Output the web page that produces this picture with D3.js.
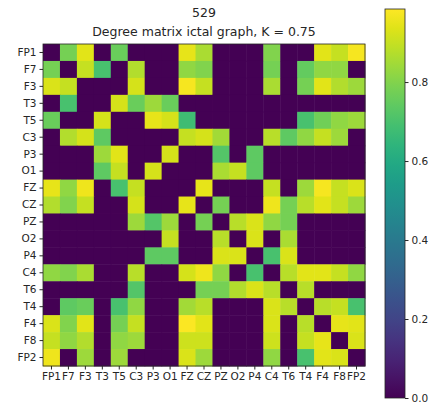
<!DOCTYPE html>
<html>
<head>
<meta charset="utf-8">
<script src="https://cdn.jsdelivr.net/npm/d3@7"></script>
<style>
  body { margin: 0; background: #fff; }
  text { font-family: "DejaVu Sans", sans-serif; fill: #262626; }
  .axis path, .axis line { stroke: #262626; }
</style>
</head>
<body>
<div id="chart"></div>
<script>
  // channel names (rows and columns)
  var labels = ['FP1', 'F7', 'F3', 'T3', 'T5', 'C3', 'P3', 'O1', 'FZ', 'CZ',
                'PZ', 'O2', 'P4', 'C4', 'T6', 'T4', 'F4', 'F8', 'FP2'];

  // degree matrix, one row per channel
  var rowFP1 = [0, .78, .94, 0, .76, 0, 0, 0, .95, .86, 0, 0, 0, .80, 0, 0, .94, .90, .97];
  var rowF7  = [.78, 0, .90, .70, 0, .87, 0, 0, .82, .80, 0, 0, 0, .78, 0, .75, .82, .82, 0];
  var rowF3  = [.93, .90, 0, 0, 0, .92, 0, 0, .97, .90, 0, 0, 0, .86, 0, .78, .94, .87, .84];
  var rowT3  = [0, .70, 0, 0, .92, .76, .84, .76, 0, 0, 0, 0, 0, 0, 0, 0, 0, 0, 0];
  var rowT5  = [.76, 0, 0, .92, 0, 0, .95, .92, .68, 0, 0, 0, 0, 0, 0, .70, .77, .82, .84];
  var rowC3  = [0, .87, .92, .74, 0, 0, 0, 0, .90, .92, .85, 0, 0, .88, .74, .82, .90, .84, 0];
  var rowP3  = [0, 0, 0, .84, .94, 0, 0, .92, 0, 0, .72, 0, .74, 0, 0, 0, 0, 0, 0];
  var rowO1  = [0, 0, 0, .74, .90, 0, .92, 0, 0, 0, .86, .90, .74, 0, 0, 0, 0, 0, 0];
  var rowFZ  = [.95, .82, .96, 0, .70, .90, 0, 0, 0, .95, 0, 0, 0, .90, 0, .84, .97, .90, .93];
  var rowCZ  = [.87, .80, .90, 0, 0, .92, 0, 0, .95, 0, .78, 0, 0, .96, .78, .88, .94, .90, .84];
  var rowPZ  = [0, 0, 0, 0, 0, .84, .72, .84, 0, .78, 0, .88, .93, .82, .78, 0, 0, 0, 0];
  var rowO2  = [0, 0, 0, 0, 0, 0, 0, .90, 0, 0, .88, 0, .93, 0, .86, 0, 0, 0, 0];
  var rowP4  = [0, 0, 0, 0, 0, 0, .74, .74, 0, 0, .93, .93, 0, .70, .93, 0, 0, 0, 0];
  var rowC4  = [.82, .80, .86, 0, 0, .88, 0, 0, .92, .96, .82, 0, .70, 0, .88, .94, .94, .90, .82];
  var rowT6  = [0, 0, 0, 0, 0, .72, 0, 0, 0, .78, .78, .87, .93, .88, 0, .88, 0, 0, 0];
  var rowT4  = [0, .74, .76, 0, .70, .82, 0, 0, .85, .88, 0, 0, 0, .93, .88, 0, .88, .90, .70];
  var rowF4  = [.93, .80, .94, 0, .78, .90, 0, 0, .98, .94, 0, 0, 0, .93, 0, .88, 0, .95, .94];
  var rowF8  = [.90, .82, .87, 0, .82, .84, 0, 0, .91, .91, 0, 0, 0, .91, 0, .90, .95, 0, .93];
  var rowFP2 = [.96, 0, .84, 0, .84, 0, 0, 0, .93, .84, 0, 0, 0, .82, 0, .70, .94, .93, 0];

  var matrix = [rowFP1, rowF7, rowF3, rowT3, rowT5, rowC3, rowP3, rowO1, rowFZ, rowCZ,
                rowPZ, rowO2, rowP4, rowC4, rowT6, rowT4, rowF4, rowF8, rowFP2];

  var cbTicks = [0.0, 0.2, 0.4, 0.6, 0.8];
  var vmax = 0.985;

  var W = 434, H = 406;
  var plotLeft = 43, plotTop = 44, size = 322;

  var svg = d3.select('#chart').append('svg')
      .attr('width', W).attr('height', H);

  var x = d3.scaleBand().domain(labels).range([plotLeft, plotLeft + size]);
  var y = d3.scaleBand().domain(labels).range([plotTop, plotTop + size]);
  var color = d3.scaleSequential(d3.interpolateViridis).domain([0, vmax]);

  // cells
  var cells = [];
  matrix.forEach(function(row, i) {
    row.forEach(function(v, j) {
      cells.push({ r: labels[i], c: labels[j], v: v });
    });
  });
  svg.append('g').selectAll('rect').data(cells).enter().append('rect')
      .attr('x', function(d) { return x(d.c); })
      .attr('y', function(d) { return y(d.r); })
      .attr('width', x.bandwidth() + 0.5)
      .attr('height', y.bandwidth() + 0.5)
      .attr('fill', function(d) { return color(d.v); });

  // frame
  svg.append('rect').attr('x', plotLeft).attr('y', plotTop)
      .attr('width', size).attr('height', size)
      .attr('fill', 'none').attr('stroke', '#262626').attr('stroke-width', 0.8);

  // axes
  var xAxis = svg.append('g').attr('class', 'axis')
      .attr('transform', 'translate(0,' + (plotTop + size) + ')')
      .call(d3.axisBottom(x).tickSize(3.5).tickPadding(3));
  var yAxis = svg.append('g').attr('class', 'axis')
      .attr('transform', 'translate(' + plotLeft + ',0)')
      .call(d3.axisLeft(y).tickSize(3.5).tickPadding(3));
  [xAxis, yAxis].forEach(function(g) {
    g.select('.domain').remove();
    g.selectAll('text').attr('font-size', 10.5).attr('font-family', 'DejaVu Sans').attr('fill', '#262626');
  });

  // title
  var cx = plotLeft + size / 2;
  svg.append('text').attr('x', cx).attr('y', 17).attr('text-anchor', 'middle')
      .attr('font-size', 12.5).text('529');
  svg.append('text').attr('x', cx).attr('y', 36).attr('text-anchor', 'middle')
      .attr('font-size', 12.5).text('Degree matrix ictal graph, K = 0.75');

  // colorbar
  var cbX = 385, cbW = 20, cbTop = 9, cbBot = 398;
  var cbY = d3.scaleLinear().domain([0, vmax]).range([cbBot, cbTop]);
  var defs = svg.append('defs');
  var grad = defs.append('linearGradient').attr('id', 'cbgrad')
      .attr('x1', 0).attr('y1', 1).attr('x2', 0).attr('y2', 0);
  d3.range(0, 1.0001, 0.05).forEach(function(t) {
    grad.append('stop').attr('offset', t).attr('stop-color', color(t * vmax));
  });
  svg.append('rect').attr('x', cbX).attr('y', cbTop)
      .attr('width', cbW).attr('height', cbBot - cbTop)
      .attr('fill', 'url(#cbgrad)')
      .attr('stroke', '#262626').attr('stroke-width', 0.8);
  var cbAxis = svg.append('g').attr('class', 'axis')
      .attr('transform', 'translate(' + (cbX + cbW) + ',0)')
      .call(d3.axisRight(cbY).tickValues(cbTicks).tickFormat(d3.format('.1f'))
            .tickSize(3.5).tickPadding(3));
  cbAxis.select('.domain').remove();
  cbAxis.selectAll('text').attr('font-size', 10.5).attr('font-family', 'DejaVu Sans').attr('fill', '#262626');
</script>
</body>
</html>
